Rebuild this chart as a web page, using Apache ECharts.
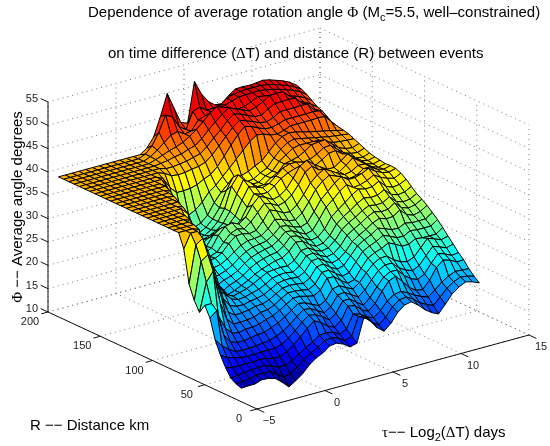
<!DOCTYPE html>
<html><head><meta charset="utf-8">
<style>html,body{margin:0;padding:0;background:#fff}#c{width:550px;height:446px}</style>
<script src="https://cdn.jsdelivr.net/npm/echarts@6/dist/echarts.min.js"></script>
</head><body><div id="c"></div>
<script>
// ----- tick labels
const tauTicks=[-5,0,5,10,15];
const distTicks=[0,50,100,150,200];
const angleTicks=[10,15,20,25,30,35,40,45,50,55];
// ----- surface sample positions
const tauGrid=[-5,-4.5,-4,-3.5,-3,-2.5,-2,-1.5,-1,-0.5,0,0.5,1,1.5,2,2.5,3,3.5,4,4.5,5,5.5,6,6.5,7,7.5,8,8.5,9,9.5,10,10.5,11,11.5,12,12.5];
const distGrid=[15,20,25,30,35,40,45,50,55,60,65,70,75,80,85,90,95,100,105,110,115,120,125,130,135,140,145,150,155,160,165,170,175,180,185,190];
// ----- surface heights, one list per distance, tau increasing
const z015=[12.9,13,13,13.5,13.4,13,11.8,10.4,11.3,12.4,13.9,15,15.7,16.8,17,16.4,15.4,15.8,20.8,20,17.9,16.8,18.1,20,21.2,21.5,20.4,19,18,17.3,19,20.8,21.9,22.6,22.2,21.6];
const z020=[13.3,13.4,13.6,14,14,14,13,12,12.4,13.3,14.6,15.6,16.4,17.4,17.6,17.2,16.2,16.8,20.6,20,18.5,17.6,18.9,20.7,21.8,22,21.2,20,19.2,18.6,20,21.5,22.5,23.1,22.9,22.5];
const z025=[14,14.2,14.4,14.6,14.7,14.8,14.2,13.6,13.6,14.2,15.2,16.2,17,18,18.2,17.9,17.1,17.8,20.6,20.2,19.2,18.6,19.8,21.4,22.4,22.7,22,21.1,20.4,19.9,21,22.3,23.2,23.8,23.7,23.6];
const z030=[15.7,15.4,15.4,15.4,15.4,15.5,15.3,15,14.9,15.6,16.7,18,19.4,20.6,19.9,18.7,18.1,19.1,21.8,21.5,20.2,19.5,20.8,23,24.8,25.4,23.9,22.2,21.2,21,22.6,24.9,26.1,25.7,24.9,25];
const z035=[17.9,17,16.6,16.2,16,16.1,16.2,16.2,16.2,16.7,17.6,18.8,20.2,21.3,21,20.2,19.1,20.1,22.4,22.4,21.3,20.3,21.5,23.4,25.1,25.9,25.8,24.3,23.2,22.6,23.4,25.3,27,26.5,25.8,26];
const z040=[20.6,19,17.8,17,16.8,16.9,17,17.2,17.4,17.9,18.6,19.6,20.9,22,21.8,21,20.1,21,23.1,23.3,22.4,21.5,22.6,24.4,26,26.8,26.8,25.4,24.5,24,24.7,26.4,28,27.5,26.9,27.3];
const z045=[24.8,26,20.5,18.5,18,18,18.2,18.5,18.6,19.2,19.8,20.7,21.7,22.8,22.5,21.8,21.1,21.8,23.9,24.2,23.4,22.7,23.7,25.4,26.9,27.7,27.8,26.6,25.8,25.4,26,27.6,29.2,28.7,28.1,28.5];
const z050=[27,27,24,21,19.5,19.2,19.5,19.6,19.8,20.4,20.8,21.6,22.5,23.4,23.4,23,22.7,23.5,25.7,25.6,24.4,23.4,23.8,25.8,27.6,28.4,28.9,29.7,29,28.2,28.2,29,28.8,28.8,28.8,29.8];
const z055=[25,31,33,26,22,20.5,20.5,20.6,20.8,21.4,21.6,22.2,23.2,24,24,23.8,23.5,24.3,26.4,26.5,25.4,24.4,24.8,26.7,28.5,29.3,29.9,30.8,30.2,29.5,29.4,30.2,30,30,30,31];
const z060=[27,35,36,31,26,22.5,21.5,21.6,21.8,22.2,22.3,22.8,23.7,24.5,24.7,24.6,24.3,25.1,27.1,27.3,26.2,25.4,25.8,27.5,29.2,30.1,30.8,31.8,31.3,30.7,30.6,31.3,31,31,31,32];
const z065=[30,38,39,35,30,25,23,22.5,22.4,22.8,23,23.4,24.2,25,25.3,25.3,25.1,25.9,27.8,28,27,26.2,26.6,27.8,29.6,30.6,31.4,32.4,33,32.5,32.6,33.6,32.2,31.7,32.1,33];
const z070=[37,40,40,34,28,26,25,23.5,23,23.2,23.6,24,24.7,25.6,25.9,26,25.7,26.6,28.4,28.6,27.7,27,27.3,28.5,30.4,31.4,32.2,33.2,33.9,33.5,33.6,34.6,33.2,32.7,33,33.8];
const z075=[40,40,40,39.5,33,27,26,24,23.2,23.6,24,24.7,25.5,26.3,26.5,26.6,26.5,27.3,29,29.2,28.3,27.7,28,29.2,31.1,32.2,33,34,34.7,34.4,34.5,35.4,34,33.5,33.7,34.5];
const z080=[40,40,40,40,36,30,27,25,23,23.5,24.2,24.9,25.8,26.5,27,27.5,27.7,28.7,30.3,30.1,29,28.2,28.5,29.7,31.8,33,33.9,35,35.8,35.5,35.6,36.4,35,34.5,34.7,35.5];
const z085=[40,40,40,40,38,31,27,25.5,23.2,24.1,24.6,25.4,26.5,27.3,27.8,28.2,28.4,29.4,31,30.7,29.8,29,29.3,30.6,32.8,34,35.1,36.3,37.2,36.8,36.9,37.7,36.2,35.6,35.8,36.5];
const z090=[40,40,40,40,39.5,34,29,26,24,24.7,25.2,25.9,27.1,28,28.5,28.9,29.2,30.1,31.5,31.3,30.5,29.8,30.2,32.2,34.4,35.6,37,38,37,37.2,37.7,38.5,37.6,37,36.6,37.3];
const z095=[40,40,40,40,40,36,31,27,25,25.3,25.8,26.6,27.8,28.7,29.3,29.5,29.8,30.7,32.1,31.9,31.2,30.8,31.3,33.3,35.5,36.8,38.2,39.2,38.2,38.2,38.7,39.4,38.4,37.7,37.4,37.8];
const z100=[40,40,40,40,40,38,33,29,26.5,26.3,26.6,27.4,28.5,29.5,30.1,30.2,30.4,31.5,33.1,32.7,32,31.8,32.9,34.9,37.1,38.5,39.4,38.8,38.1,37.5,37.8,38.8,38.8,37.9,37.5,37.9];
const z105=[40,40,40,40,40,40,38.5,33,28,27.3,27.4,28.2,29.8,31,31.1,30.7,31,32.6,34.6,34,33.2,33,34.1,35.9,38,39.3,40.2,39.4,38.5,37.8,38.1,39,38.9,37.9,37.4,37.8];
const z110=[40,40,40,40,40,40,39.5,35,30,27.8,27.3,27.8,29.5,31,31.6,31.2,32.3,33.9,35.5,35,34.2,34.6,35.7,37.5,39.8,40.7,39.5,38.6,37.8,37.9,38.9,40.1,39,38,37.6,38];
const z115=[40,40,40,40,40,40,40,37.5,32,28.2,27.5,28.2,30.5,32,32.4,31.7,32.8,35,36.5,35.8,35,35.4,36.5,38.4,40.6,41.4,40.2,39.2,38.3,38.3,39.3,40.4,39.3,38.2,37.8,38.2];
const z120=[40,40,40,40,40,40,40,39,34,29,27.5,28,30,31,31,30.5,31.5,34,36.5,36,36,37,38.2,39,39.5,39.2,38.8,39,39.8,40.8,41,39.9,38.7,38.2,38,38.5];
const z125=[40,40,40,40,40,40,40,39.8,36,30.5,27.8,27.8,28.8,29.5,30,30.5,32,35,37.5,37,36.5,37,38.2,39.5,40,40,39.6,39.8,40.5,41.5,41.6,40.4,39.2,38.7,38.5,39];
const z130=[40,40,40,40,40,40,40,40,38,32,28.2,27.6,28,28.5,29.2,30.3,32.5,35.8,38.5,37.5,36.2,36.2,37.3,38,39.5,39.8,40.2,41,42,42.2,42.3,41,39.8,39.2,39,39.5];
const z135=[40,40,40,40,40,40,40,40,39.5,34.5,29,27.8,27.8,28,28.8,30.2,32.6,37,39,37,36.2,36.2,37.2,37.8,39.5,40.5,41.5,41.8,41.8,41.8,41.6,40.9,40.4,40.2,40.1,40];
const z140=[40,40,40,40,40,40,40,40,40,37,31,28.2,28,28,28.8,30.2,32.2,35.5,38,37,36.2,36.4,37.3,38,39.7,41.2,42.2,42.6,42.3,42,41.7,41.4,41.1,40.9,40.7,40.5];
const z145=[40,40,40,40,40,40,40,40,40,39,34,29.5,28.8,28.6,29.2,30.5,32.8,34.6,36,37,37,37.5,38.3,39,40.5,42,43,43.4,43.2,42.8,42.4,42.1,41.8,41.5,41.1,40.8];
const z150=[40,40,40,40,40,40,40,40,40,40,37.5,33,31,30.8,31.5,32.8,34.6,35.6,37.1,38.5,40,41.5,43,44,43.8,43.2,43,43.4,44,44,44,44,44.1,44,42.5,41];
const z155=[40,40,40,40,40,40,40,40,40,40,39.3,37,35.5,35.5,35.6,36,36.8,37.4,38.7,40.5,42.5,44.3,45.7,45.3,44.6,44,43.9,44.3,44.8,44.8,44.8,44.8,44.9,44.7,43,41.2];
const z160=[40,40,40,40,40,40,40,40,40,40,40,39.5,38.6,38.4,38.5,38.8,39,39.5,40.7,42.2,43.8,45.3,46.5,46,45.4,44.8,44.6,45.1,46,46,46,46.1,46,44.4,42.7,42];
const z165=[40,40,40,40,40,40,40,40,40,40,40,40,39.6,39.6,39.8,40,40.4,40.8,41.9,43.4,44.7,46.3,47.4,46.9,46.2,45.6,45.5,46.4,47.2,47.2,47.3,47.2,45.7,44.2,43.5,42.8];
const z170=[40,40,40,40,40,40,40,40,40,40,40,40,40.2,40.4,40.8,41,41.6,42,43.1,44.6,45.9,47.1,48.2,47.5,46.9,46.3,46.7,47.5,48.4,48.5,48.4,47,45.5,45,44.2,43.2];
const z175=[40,40,40,40,40,40,40,40,40,40,40,40,40.5,41,41.6,42,42.6,43.5,44.6,45.9,47.3,48.3,47.7,47,46.5,46.7,47.3,48,47.8,47.5,47.2,46.8,46.2,45.7,45,44];
const z180=[40,40,40,40,40,40,40,40,40,40,40,40,40.6,41.6,42.8,44,44.4,43.5,43.7,45.6,46.2,46.6,47,47.3,47.8,48.2,48.3,48.4,48.4,48.2,47.9,47.5,47,46.5,45.8,44.8];
const z185=[40,40,40,40,40,40,40,40,40,40,40,40,40.6,42,44.5,47.8,47,44.5,43.5,47,47.5,46.5,46.5,46.8,47.8,48.3,48.5,48.6,48.6,48.6,48.4,48,47.5,47,46.3,45.4];
const z190=[40,40,40,40,40,40,40,40,40,40,40,40,40,41,43,47,51.5,48,44.5,44,52.5,49.5,47.5,46.3,46.2,47.5,48.5,48.6,48.5,48.6,48.8,48.5,48,47.5,46.8,45.8];
const surfaceRows=[z015,z020,z025,z030,z035,z040,z045,z050,z055,z060,z065,z070,z075,z080,z085,z090,z095,z100,z105,z110,z115,z120,z125,z130,z135,z140,z145,z150,z155,z160,z165,z170,z175,z180,z185,z190];

const TAU=[-5,15],DIST=[0,200],ANG=[10,55];
function view(t,r,a){
  const ft=(t-TAU[0])/(TAU[1]-TAU[0]), fr=(DIST[1]-r)/(DIST[1]-DIST[0]), fa=(a-ANG[0])/(ANG[1]-ANG[0]);
  return [48+272*ft+209*fr, 312-74*ft+97*fr-210*fa];
}
const CMIN=10.4,CMAX=52.5;
function jet(v){
  const f=Math.max(0,Math.min(1,(v-CMIN)/(CMAX-CMIN)));
  const c=x=>Math.round(255*Math.max(0,Math.min(1,1.5-Math.abs(4*f-x))));
  return `rgb(${c(3)},${c(2)},${c(1)})`;
}
const cells=[];
for(let j=distGrid.length-2;j>=0;j--)for(let i=tauGrid.length-2;i>=0;i--)cells.push([i,j]);

const gridSegs=[];
function seg(a,b){gridSegs.push([a,b]);}
tauTicks.forEach(t=>{seg([t,DIST[0],ANG[0]],[t,DIST[1],ANG[0]]);seg([t,DIST[1],ANG[0]],[t,DIST[1],ANG[1]]);});
distTicks.forEach(r=>{seg([TAU[0],r,ANG[0]],[TAU[1],r,ANG[0]]);seg([TAU[1],r,ANG[0]],[TAU[1],r,ANG[1]]);});
angleTicks.forEach(a=>{seg([TAU[0],DIST[1],a],[TAU[1],DIST[1],a]);seg([TAU[1],DIST[1],a],[TAU[1],DIST[0],a]);});
const axisSegs=[
 [[TAU[0],DIST[1],ANG[0]],[TAU[0],DIST[1],ANG[1]]],
 [[TAU[0],DIST[1],ANG[0]],[TAU[0],DIST[0],ANG[0]]],
 [[TAU[0],DIST[0],ANG[0]],[TAU[1],DIST[0],ANG[0]]]
];
angleTicks.forEach(a=>axisSegs.push([[TAU[0],DIST[1],a],[TAU[0],DIST[1]+7,a]]));
distTicks.forEach(r=>axisSegs.push([[TAU[0],r,ANG[0]],[TAU[0]-0.5,r,ANG[0]]]));
tauTicks.forEach(t=>axisSegs.push([[t,DIST[0],ANG[0]],[t,DIST[0]-7,ANG[0]]]));

const labels=[];
const fmt=v=>String(v).replace('-','\u2212');
angleTicks.forEach(a=>{const p=view(TAU[0],DIST[1],a);labels.push([p[0]-10,p[1]-3,String(a),'right']);});
distTicks.forEach(r=>{const p=view(TAU[0],r,ANG[0]);labels.push([p[0]-18,p[1]+10,String(r),'center']);});
tauTicks.forEach(t=>{const p=view(t,DIST[0],ANG[0]);labels.push([p[0]+12,p[1]+12,fmt(t),'center']);});

const FONT='"Liberation Sans"';
const TS=15;
const chart=echarts.init(document.getElementById('c'),null,{renderer:'canvas'});
chart.setOption({
 animation:false,
 backgroundColor:'#fff',
 grid:{left:0,right:0,top:0,bottom:0},
 xAxis:{type:'value',min:0,max:550,show:false},
 yAxis:{type:'value',min:0,max:446,inverse:true,show:false},
 tooltip:{show:false},
 graphic:[
  {type:'text',x:88,y:13,silent:true,z:10,style:{text:'{a|Dependence of average rotation angle }{p|\u03A6}{a| (M}{s|c}{a|=5.5, well\u2013constrained)}',textVerticalAlign:'middle',rich:{a:{font:TS+'px '+FONT,fill:'#000'},p:{font:TS+'px "Liberation Serif"',fill:'#000'},s:{font:'11px '+FONT,fill:'#000',padding:[10,0,0,0]}}}},
  {type:'text',x:108,y:54,silent:true,z:10,style:{text:'{a|on time difference (}{d|\u0394}{a|T) and distance (R) between events}',textVerticalAlign:'middle',rich:{a:{font:TS+'px '+FONT,fill:'#000'},d:{font:TS+'px "Liberation Serif"',fill:'#000'}}}},
  {type:'text',x:18,y:207,rotation:Math.PI/2,silent:true,z:10,style:{text:'{p|\u03A6}{a| \u2212\u2212 Average angle degrees}',textAlign:'center',textVerticalAlign:'middle',rich:{a:{font:TS+'px '+FONT,fill:'#000'},p:{font:TS+'px "Liberation Serif"',fill:'#000'}}}},
  {type:'text',x:30,y:426,silent:true,z:10,style:{text:'R \u2212\u2212 Distance km',font:TS+'px '+FONT,fill:'#000',textVerticalAlign:'middle'}},
  {type:'text',x:382,y:433,silent:true,z:10,style:{text:'{p|\u03C4}{a|\u2212\u2212 Log}{s|2}{a|(}{p|\u0394}{a|T) days}',textVerticalAlign:'middle',rich:{a:{font:TS+'px '+FONT,fill:'#000'},p:{font:TS+'px "Liberation Serif"',fill:'#000'},s:{font:'11px '+FONT,fill:'#000',padding:[10,0,0,0]}}}}
 ],
 series:[
  {type:'custom',coordinateSystem:'cartesian2d',silent:true,z:1,clip:false,data:gridSegs.map((s,k)=>[k]),progressive:0,
   renderItem(p,api){const s=gridSegs[api.value(0)],a=api.coord(view(...s[0])),b=api.coord(view(...s[1]));
    return {type:'line',shape:{x1:a[0],y1:a[1],x2:b[0],y2:b[1]},style:{stroke:'#777',lineWidth:1,lineDash:[1,4],fill:null}};}},
  {type:'custom',coordinateSystem:'cartesian2d',silent:true,z:2,clip:false,data:axisSegs.map((s,k)=>[k]),progressive:0,
   renderItem(p,api){const s=axisSegs[api.value(0)],a=api.coord(view(...s[0])),b=api.coord(view(...s[1]));
    return {type:'line',shape:{x1:a[0],y1:a[1],x2:b[0],y2:b[1]},style:{stroke:'#111',lineWidth:1,fill:null}};}},
  {type:'custom',coordinateSystem:'cartesian2d',silent:true,z:3,clip:false,data:cells,progressive:0,
   renderItem(p,api){
    const i=api.value(0),j=api.value(1);
    const corner=[[i,j],[i+1,j],[i+1,j+1],[i,j+1]];
    let sum=0;
    const pts=corner.map(c=>{const v=surfaceRows[c[1]][c[0]];sum+=v;return api.coord(view(tauGrid[c[0]],distGrid[c[1]],v));});
    return {type:'polygon',shape:{points:pts},style:{fill:jet(sum/4),stroke:'#000',lineWidth:1}};}},
  {type:'custom',coordinateSystem:'cartesian2d',silent:true,z:4,clip:false,data:labels.map((s,k)=>[k]),progressive:0,
   renderItem(p,api){const l=labels[api.value(0)],a=api.coord([l[0],l[1]]);
    return {type:'text',x:a[0],y:a[1],style:{text:l[2],font:'11px '+FONT,fill:'#222',textAlign:l[3],textVerticalAlign:'middle'}};}}
 ]
});
</script></body></html>
